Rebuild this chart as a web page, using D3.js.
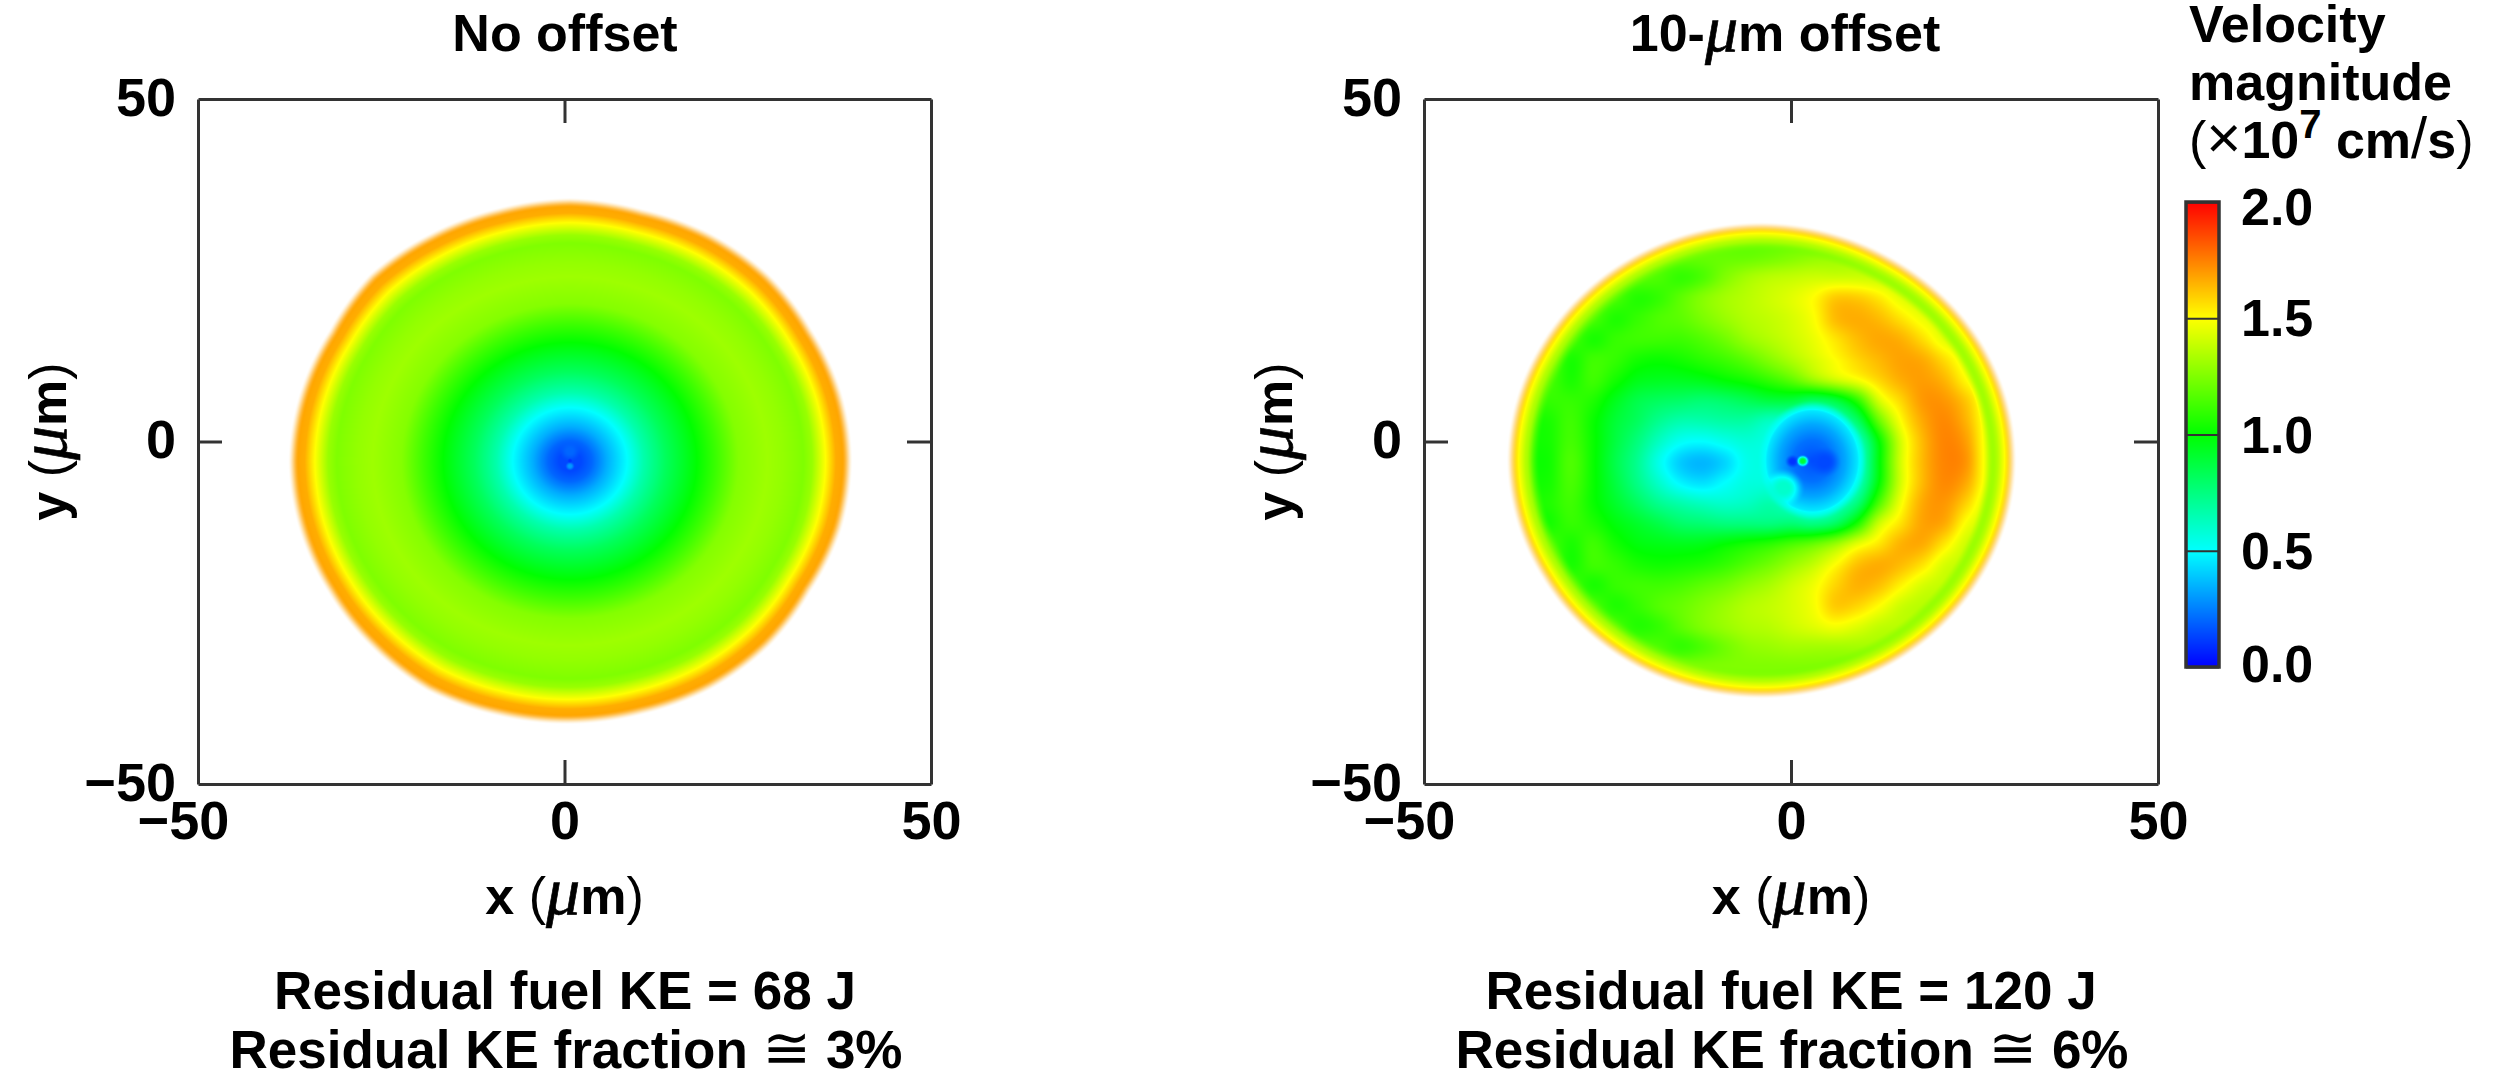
<!DOCTYPE html>
<html>
<head>
<meta charset="utf-8">
<script src="https://cdn.jsdelivr.net/npm/d3@7"></script>
<style>
  html, body { margin: 0; padding: 0; background: #fff; }
  svg { display: block; }
  text { font-family: "Liberation Sans", Arial, sans-serif; font-weight: bold; fill: #000; }
  .thin { font-weight: normal; }
  .mu { font-family: "Liberation Serif", serif; font-style: italic; font-weight: normal; stroke: #000; stroke-width: 0.7px; }
  .domain, .tick line { stroke: #333; }
</style>
</head>
<body>
<div id="chart"></div>
<script>
// Tick labels and text
let axisTicks = [-50, 0, 50];
let barTicks = [0, 0.5, 1, 1.5, 2];
let barStops = ["#0000ff", "#00ffff", "#00ff00", "#ffff00", "#ff0000"];
let legendLines = ["Velocity", "magnitude"];

// ---- No offset panel, read along the radius from the hole at the middle
let leftCentre = [0.75, -2.85];
let leftRadii = [0, 1.5, 3, 5, 7.8, 10, 13, 17.3, 20, 23, 26.9, 29, 31.8, 33, 34.8, 36.2, 37.5, 38];
let leftValues = [0.14, 0.14, 0.2, 0.34, 0.5, 0.66, 0.82, 1.0, 1.12, 1.26, 1.31, 1.29, 1.25, 1.3, 1.5, 1.66, 1.68, 1.68];
let leftEdgeAngles = d3.range(0, 375, 15);
let leftEdge = [38.1, 38, 37.8, 38.1, 38, 37.7, 38, 37.8, 37.9, 38.2, 37.6, 37.8, 38, 37.9, 37.8, 38, 38.4, 38.1, 38, 37.9, 38.1, 38, 37.6, 38, 38.1];
// [x, y, radius, value] of the small details at the hole
let leftSpots = [[0.75, -1.4, 1.6, 0.2], [0.75, -3.6, 0.7, 0.3], [0.75, -2.8, 0.4, 0.1]];

// ---- 10-um offset panel, read on a 3 um grid, top row first
let rightCentre = [-4, -2.8];
let rightCols = d3.range(-36, 33, 3);
let rightRows = d3.range(30, -39, -3);
let rightValues = [
  [1.2,1.2,1.2,1.2,1.2,1.2,1.2,1.2,1.2,1.2,1.2,1.2,1.2,1.2,1.25,1.3,1.3,1.3,1.3,1.3,1.3,1.3,1.3],
  [1.2,1.2,1.2,1.2,1.2,1.2,1.2,1.2,1.2,1.2,1.2,1.22,1.25,1.28,1.3,1.32,1.32,1.32,1.32,1.32,1.32,1.32,1.32],
  [1.2,1.2,1.2,1.2,1.2,1.18,1.15,1.1,1.15,1.25,1.32,1.36,1.38,1.4,1.4,1.4,1.38,1.34,1.34,1.34,1.34,1.34,1.34],
  [1.2,1.2,1.2,1.2,1.15,1.07,1.1,1.18,1.26,1.32,1.36,1.4,1.44,1.5,1.6,1.6,1.54,1.44,1.38,1.36,1.36,1.36,1.36],
  [1.2,1.2,1.2,1.15,1.06,1.1,1.15,1.18,1.24,1.3,1.35,1.38,1.42,1.49,1.63,1.66,1.63,1.55,1.46,1.4,1.38,1.38,1.38],
  [1.2,1.2,1.15,1.05,1.1,1.12,1.12,1.12,1.16,1.22,1.3,1.35,1.4,1.46,1.55,1.63,1.67,1.65,1.56,1.44,1.4,1.4,1.4],
  [1.2,1.2,1.05,1.12,1.1,1.04,1.02,1.04,1.08,1.12,1.18,1.26,1.34,1.42,1.5,1.58,1.64,1.68,1.66,1.56,1.44,1.4,1.4],
  [1.14,1.14,1.05,1.12,1.04,0.96,0.94,0.94,0.96,1,1.04,1.1,1.18,1.3,1.4,1.48,1.58,1.66,1.69,1.64,1.5,1.4,1.4],
  [1.1,1.1,1.1,1.06,0.95,0.86,0.82,0.8,0.78,0.8,0.84,0.88,0.88,0.82,0.88,1.08,1.42,1.58,1.7,1.7,1.6,1.42,1.4],
  [1.05,1.05,1.12,1.02,0.9,0.82,0.72,0.66,0.66,0.68,0.68,0.62,0.6,0.6,0.62,0.8,1.2,1.5,1.67,1.73,1.64,1.44,1.4],
  [1.04,1.04,1.13,1.02,0.88,0.76,0.62,0.52,0.5,0.54,0.58,0.55,0.5,0.5,0.5,0.6,1.0,1.42,1.64,1.74,1.68,1.44,1.4],
  [1.03,1.03,1.15,1.02,0.86,0.72,0.54,0.4,0.36,0.42,0.54,0.55,0.5,0.5,0.5,0.55,0.98,1.42,1.64,1.74,1.7,1.44,1.4],
  [1.04,1.04,1.14,1.02,0.88,0.74,0.6,0.48,0.44,0.5,0.56,0.56,0.52,0.5,0.5,0.6,1.0,1.42,1.64,1.73,1.66,1.44,1.4],
  [1.06,1.06,1.12,1.02,0.92,0.82,0.72,0.66,0.62,0.6,0.62,0.66,0.6,0.55,0.6,0.76,1.15,1.48,1.67,1.7,1.58,1.4,1.4],
  [1.04,1.04,1.1,1.06,0.98,0.92,0.86,0.8,0.78,0.76,0.76,0.76,0.78,0.75,0.82,1.05,1.4,1.56,1.68,1.66,1.48,1.38,1.38],
  [1.14,1.14,1.05,1.12,1.04,0.98,0.96,0.95,0.96,1,1.04,1.08,1.14,1.2,1.3,1.45,1.55,1.65,1.66,1.54,1.4,1.38,1.38],
  [1.2,1.2,1.05,1.12,1.1,1.05,1.03,1.04,1.06,1.1,1.16,1.22,1.3,1.38,1.5,1.62,1.66,1.63,1.55,1.42,1.38,1.38,1.38],
  [1.2,1.2,1.15,1.05,1.1,1.12,1.12,1.14,1.18,1.22,1.28,1.33,1.4,1.47,1.58,1.65,1.62,1.52,1.42,1.38,1.38,1.38,1.38],
  [1.2,1.2,1.2,1.15,1.06,1.1,1.16,1.2,1.25,1.3,1.35,1.38,1.42,1.48,1.6,1.58,1.5,1.4,1.36,1.36,1.36,1.36,1.36],
  [1.2,1.2,1.2,1.2,1.15,1.07,1.1,1.18,1.25,1.3,1.34,1.36,1.4,1.44,1.48,1.44,1.38,1.36,1.36,1.36,1.36,1.36,1.36],
  [1.2,1.2,1.2,1.2,1.2,1.18,1.15,1.1,1.15,1.22,1.28,1.3,1.32,1.32,1.32,1.32,1.32,1.32,1.32,1.32,1.32,1.32,1.32],
  [1.25,1.25,1.25,1.25,1.25,1.25,1.25,1.25,1.25,1.25,1.25,1.25,1.25,1.25,1.25,1.25,1.25,1.25,1.25,1.25,1.25,1.25,1.25],
  [1.25,1.25,1.25,1.25,1.25,1.25,1.25,1.25,1.25,1.25,1.25,1.25,1.25,1.25,1.25,1.25,1.25,1.25,1.25,1.25,1.25,1.25,1.25]
];
let rightEdgeAngles = d3.range(0, 390, 30);
let rightEdge = [34.2, 34.2, 34.1, 34.3, 34.2, 34.1, 34.2, 34, 34.2, 34.2, 34.2, 34.1, 34.2];
// value against distance inside the outer edge
let rightRimDist = [0, 0.5, 1.1, 2, 3, 4];
let rightRimValues = [1.66, 1.6, 1.5, 1.36, 1.26, 1.2];
// the round hole: centre, half width, half height, then value against elliptic radius
let holeShape = [2.9, -2.8, 6.45, 7.6];
let holeRadii = [0, 0.4, 0.7, 0.95, 1];
let holeValues = [0.15, 0.22, 0.33, 0.45, 0.5];
let rightSpots = [[-1, -6.8, 3, 0.6], [4.6, -3, 2.4, 0.14], [0.2, -2.9, 1.1, 0.1], [1.6, -2.85, 0.95, 0.9]];

// Page and panel layout
let width = 2508;
let height = 1074;
let panelTop = 99;
let panelBottom = 784;
let panels = [
  { left: 198, right: 931, title: "No offset", mid: 565, textMid: 565, ke: "68 J", frac: "3%", field: leftField },
  { left: 1424, right: 2158, title: null, mid: 1785, textMid: 1791, ke: "120 J", frac: "6%", field: rightField }
];

let svg = d3.select("#chart").append("svg")
  .attr("width", width)
  .attr("height", height);

let colorScale = d3.scaleLinear().domain(barTicks).range(barStops).clamp(true);
let colorTable = d3.range(1025).map(function(i) {
  return d3.rgb(colorScale(i / 512));
});

let radialScale = d3.scaleLinear().domain(leftRadii).range(leftValues).clamp(true);
let leftEdgeScale = d3.scaleLinear().domain(leftEdgeAngles).range(leftEdge);
let rightEdgeScale = d3.scaleLinear().domain(rightEdgeAngles).range(rightEdge);
let rimScale = d3.scaleLinear().domain(rightRimDist).range(rightRimValues).clamp(true);
let holeScale = d3.scaleLinear().domain(holeRadii).range(holeValues).clamp(true);

function angleOf(dx, dy) {
  let a = Math.atan2(dy, dx) * 180 / Math.PI;
  return a < 0 ? a + 360 : a;
}

function smooth(t) {
  t = Math.max(0, Math.min(1, t));
  return t * t * (3 - 2 * t);
}

function applySpots(spots, x, y, v) {
  spots.forEach(function(s) {
    let d = Math.hypot(x - s[0], y - s[1]) / s[2];
    if (d < 1) {
      v += (s[3] - v) * smooth((1 - d) / 0.8);
    }
  });
  return v;
}

function leftField(x, y) {
  let dx = x - leftCentre[0];
  let dy = y - leftCentre[1];
  let r = Math.hypot(dx, dy);
  let edge = leftEdgeScale(angleOf(dx, dy));
  // inner rings stay round, only the outer ones follow the wobbly edge
  let w = Math.pow(Math.min(1, r / 38), 4);
  let rEff = r * 38 / (38 + (edge - 38) * w);
  let v = applySpots(leftSpots, x, y, radialScale(rEff));
  return [v, smooth((edge - r + 0.5) / 1.5)];
}

function catmull(a, b, c, d, t) {
  return b + 0.5 * t * (c - a + t * (2 * a - 5 * b + 4 * c - d + t * (3 * (b - c) + d - a)));
}

function gridValue(x, y) {
  let fx = (x - rightCols[0]) / 3;
  let fy = (rightRows[0] - y) / 3;
  let ix = Math.floor(fx);
  let iy = Math.floor(fy);
  let tx = fx - ix;
  let ty = fy - iy;
  let rows = [];
  for (let j = -1; j <= 2; j++) {
    let row = rightValues[Math.max(0, Math.min(rightRows.length - 1, iy + j))];
    let cell = function(k) { return row[Math.max(0, Math.min(rightCols.length - 1, ix + k))]; };
    rows.push(catmull(cell(-1), cell(0), cell(1), cell(2), tx));
  }
  return catmull(rows[0], rows[1], rows[2], rows[3], ty);
}

function rightField(x, y) {
  let dx = x - rightCentre[0];
  let dy = y - rightCentre[1];
  let edge = rightEdgeScale(angleOf(dx, dy));
  let d = edge - Math.hypot(dx, dy);
  let v = gridValue(x, y);
  // the hole has its own rounded profile, blended in to the grid around it
  let e = Math.hypot((x - holeShape[0]) / holeShape[2], (y - holeShape[1]) / holeShape[3]);
  let inHole = smooth((e - 0.95) / 0.22);
  v = holeScale(e) * (1 - inHole) + v * inHole;
  v = applySpots(rightSpots, x, y, v);
  let t = smooth((d - 2.2) / 1.8);
  return [rimScale(d) * (1 - t) + v * t, smooth((d + 0.6) / 1.6)];
}

// paint a panel's field pixel by pixel on a canvas, then put it in the svg
function fieldImage(p, xScale, yScale) {
  let w = p.right - p.left;
  let h = panelBottom - panelTop;
  let raw = document.createElement("canvas");
  raw.width = w;
  raw.height = h;
  let ctx = raw.getContext("2d");
  let img = ctx.createImageData(w, h);
  for (let j = 0; j < h; j++) {
    let y = yScale.invert(panelTop + j + 0.5);
    for (let i = 0; i < w; i++) {
      let x = xScale.invert(p.left + i + 0.5);
      let f = p.field(x, y);
      let a = f[1];
      let k = (j * w + i) * 4;
      if (a > 0) {
        let c = colorTable[Math.max(0, Math.min(1024, Math.round(f[0] * 512)))];
        img.data[k] = c.r;
        img.data[k + 1] = c.g;
        img.data[k + 2] = c.b;
        img.data[k + 3] = a * 255;
      }
    }
  }
  ctx.putImageData(img, 0, 0);
  return raw.toDataURL();
}

function tickFormat(d) {
  return d < 0 ? "\u2212" + Math.abs(d) : d;
}

panels.forEach(function(p) {
  let xScale = d3.scaleLinear().domain([-50, 50]).range([p.left, p.right]);
  let yScale = d3.scaleLinear().domain([-50, 50]).range([panelBottom, panelTop]);
  let g = svg.append("g");

  g.append("image")
    .attr("x", p.left)
    .attr("y", panelTop)
    .attr("width", p.right - p.left)
    .attr("height", panelBottom - panelTop)
    .attr("href", fieldImage(p, xScale, yScale));

  let bottom = g.append("g")
    .attr("transform", "translate(0," + panelBottom + ")")
    .call(d3.axisBottom(xScale).tickValues(axisTicks).tickSizeOuter(0).tickSizeInner(-24).tickFormat(tickFormat));
  let left = g.append("g")
    .attr("transform", "translate(" + p.left + ",0)")
    .call(d3.axisLeft(yScale).tickValues(axisTicks).tickSizeOuter(0).tickSizeInner(-24).tickFormat(tickFormat));
  g.append("g")
    .attr("transform", "translate(0," + panelTop + ")")
    .call(d3.axisTop(xScale).tickValues(axisTicks).tickSizeOuter(0).tickSizeInner(-24).tickFormat(""));
  g.append("g")
    .attr("transform", "translate(" + p.right + ",0)")
    .call(d3.axisRight(yScale).tickValues(axisTicks).tickSizeOuter(0).tickSizeInner(-24).tickFormat(""));

  g.selectAll(".domain").attr("stroke-width", 3);
  g.selectAll(".tick line").attr("stroke-width", 3);

  // the corner ticks fall on the frame, hide those
  g.selectAll(".tick").filter(function(d) { return d !== 0; }).select("line").remove();

  bottom.selectAll("text")
    .attr("font-size", 54)
    .attr("dy", null)
    .attr("y", 55)
    .attr("x", function(d) { return d < 0 ? -15 : 0; });
  left.selectAll("text")
    .attr("font-size", 54)
    .attr("dy", null)
    .attr("x", -22)
    .attr("y", 16);

  // panel title
  let title = g.append("text")
    .attr("x", p.mid)
    .attr("y", 51)
    .attr("text-anchor", "middle")
    .attr("font-size", 52);
  if (p.title) {
    title.text(p.title);
  } else {
    title.append("tspan").text("10-");
    title.append("tspan").attr("class", "mu").attr("font-size", 66).text("\u03bc");
    title.append("tspan").text("m offset");
  }

  // x axis label
  let xLabel = g.append("text")
    .attr("x", (p.left + p.right) / 2)
    .attr("y", 914)
    .attr("text-anchor", "middle")
    .attr("font-size", 52);
  xLabel.append("tspan").text("x ");
  xLabel.append("tspan").attr("class", "thin").text("(");
  xLabel.append("tspan").attr("class", "mu").attr("font-size", 68).text("\u03bc");
  xLabel.append("tspan").text("m");
  xLabel.append("tspan").attr("class", "thin").text(")");

  // y axis label
  let yLabel = g.append("text")
    .attr("transform", "translate(" + (p.left - 132) + "," + ((panelTop + panelBottom) / 2) + ")rotate(-90)")
    .attr("text-anchor", "middle")
    .attr("font-size", 52);
  yLabel.append("tspan").text("y ");
  yLabel.append("tspan").attr("class", "thin").text("(");
  yLabel.append("tspan").attr("class", "mu").attr("font-size", 68).text("\u03bc");
  yLabel.append("tspan").text("m");
  yLabel.append("tspan").attr("class", "thin").text(")");

  // the two result lines below each panel
  g.append("text")
    .attr("x", p.textMid)
    .attr("y", 1009)
    .attr("text-anchor", "middle")
    .attr("font-size", 53)
    .text("Residual fuel KE = " + p.ke);
  let frac = g.append("text")
    .attr("x", p.textMid + 1)
    .attr("y", 1068)
    .attr("text-anchor", "middle")
    .attr("font-size", 53);
  frac.append("tspan").text("Residual KE fraction ");
  frac.append("tspan").attr("class", "thin").attr("font-family", "DejaVu Sans").attr("font-size", 58).text("\u2245");
  frac.append("tspan").text(" " + p.frac);
});

//-------      Colour bar -------------------------
let barLeft = 2186;
let barRight = 2219;
let barScale = d3.scaleLinear().domain([0, 2]).range([667, 202]);

svg.append("g").selectAll("rect")
  .data(d3.range(0, 465))
  .enter()
  .append("rect")
  .attr("x", barLeft)
  .attr("y", function(d) { return 202 + d; })
  .attr("width", barRight - barLeft)
  .attr("height", 1.5)
  .attr("fill", function(d) { return colorScale(barScale.invert(202 + d + 0.5)); });

svg.append("rect")
  .attr("x", barLeft)
  .attr("y", barScale(2))
  .attr("width", barRight - barLeft)
  .attr("height", barScale(0) - barScale(2))
  .attr("fill", "none")
  .attr("stroke", "#333")
  .attr("stroke-width", 3.5);

let barAxis = svg.append("g")
  .attr("transform", "translate(" + barRight + ",0)")
  .call(d3.axisLeft(barScale).tickValues(barTicks).tickSizeOuter(0).tickSize(barRight - barLeft).tickFormat(""));
barAxis.select(".domain").remove();
barAxis.selectAll(".tick line").attr("stroke-width", 2);

svg.append("g").selectAll("text")
  .data(barTicks)
  .enter()
  .append("text")
  .attr("x", 2241)
  .attr("y", function(d) { return barScale(d) + 18 + (d === 2 ? 5 : 0) - (d === 0 ? 3 : 0); })
  .attr("font-size", 52)
  .text(function(d) { return d.toFixed(1); });

// Legend title
svg.append("g").selectAll("text")
  .data(legendLines)
  .enter()
  .append("text")
  .attr("x", 2189)
  .attr("y", function(d, i) { return 42 + i * 58; })
  .attr("font-size", 52)
  .text(function(d) { return d; });

let unitLine = svg.append("text")
  .attr("x", 2189)
  .attr("y", 158)
  .attr("font-size", 52);
unitLine.append("tspan").attr("class", "thin").text("(");
unitLine.append("tspan").attr("class", "thin").attr("font-size", 60).text("\u00d7");
unitLine.append("tspan").text("10");
unitLine.append("tspan").attr("font-size", 40).attr("dy", -20).text("7");
unitLine.append("tspan").attr("dy", 20).text(" cm");
unitLine.append("tspan").attr("class", "thin").attr("font-size", 58).text("/");
unitLine.append("tspan").text("s");
unitLine.append("tspan").attr("class", "thin").text(")");
</script>
</body>
</html>
